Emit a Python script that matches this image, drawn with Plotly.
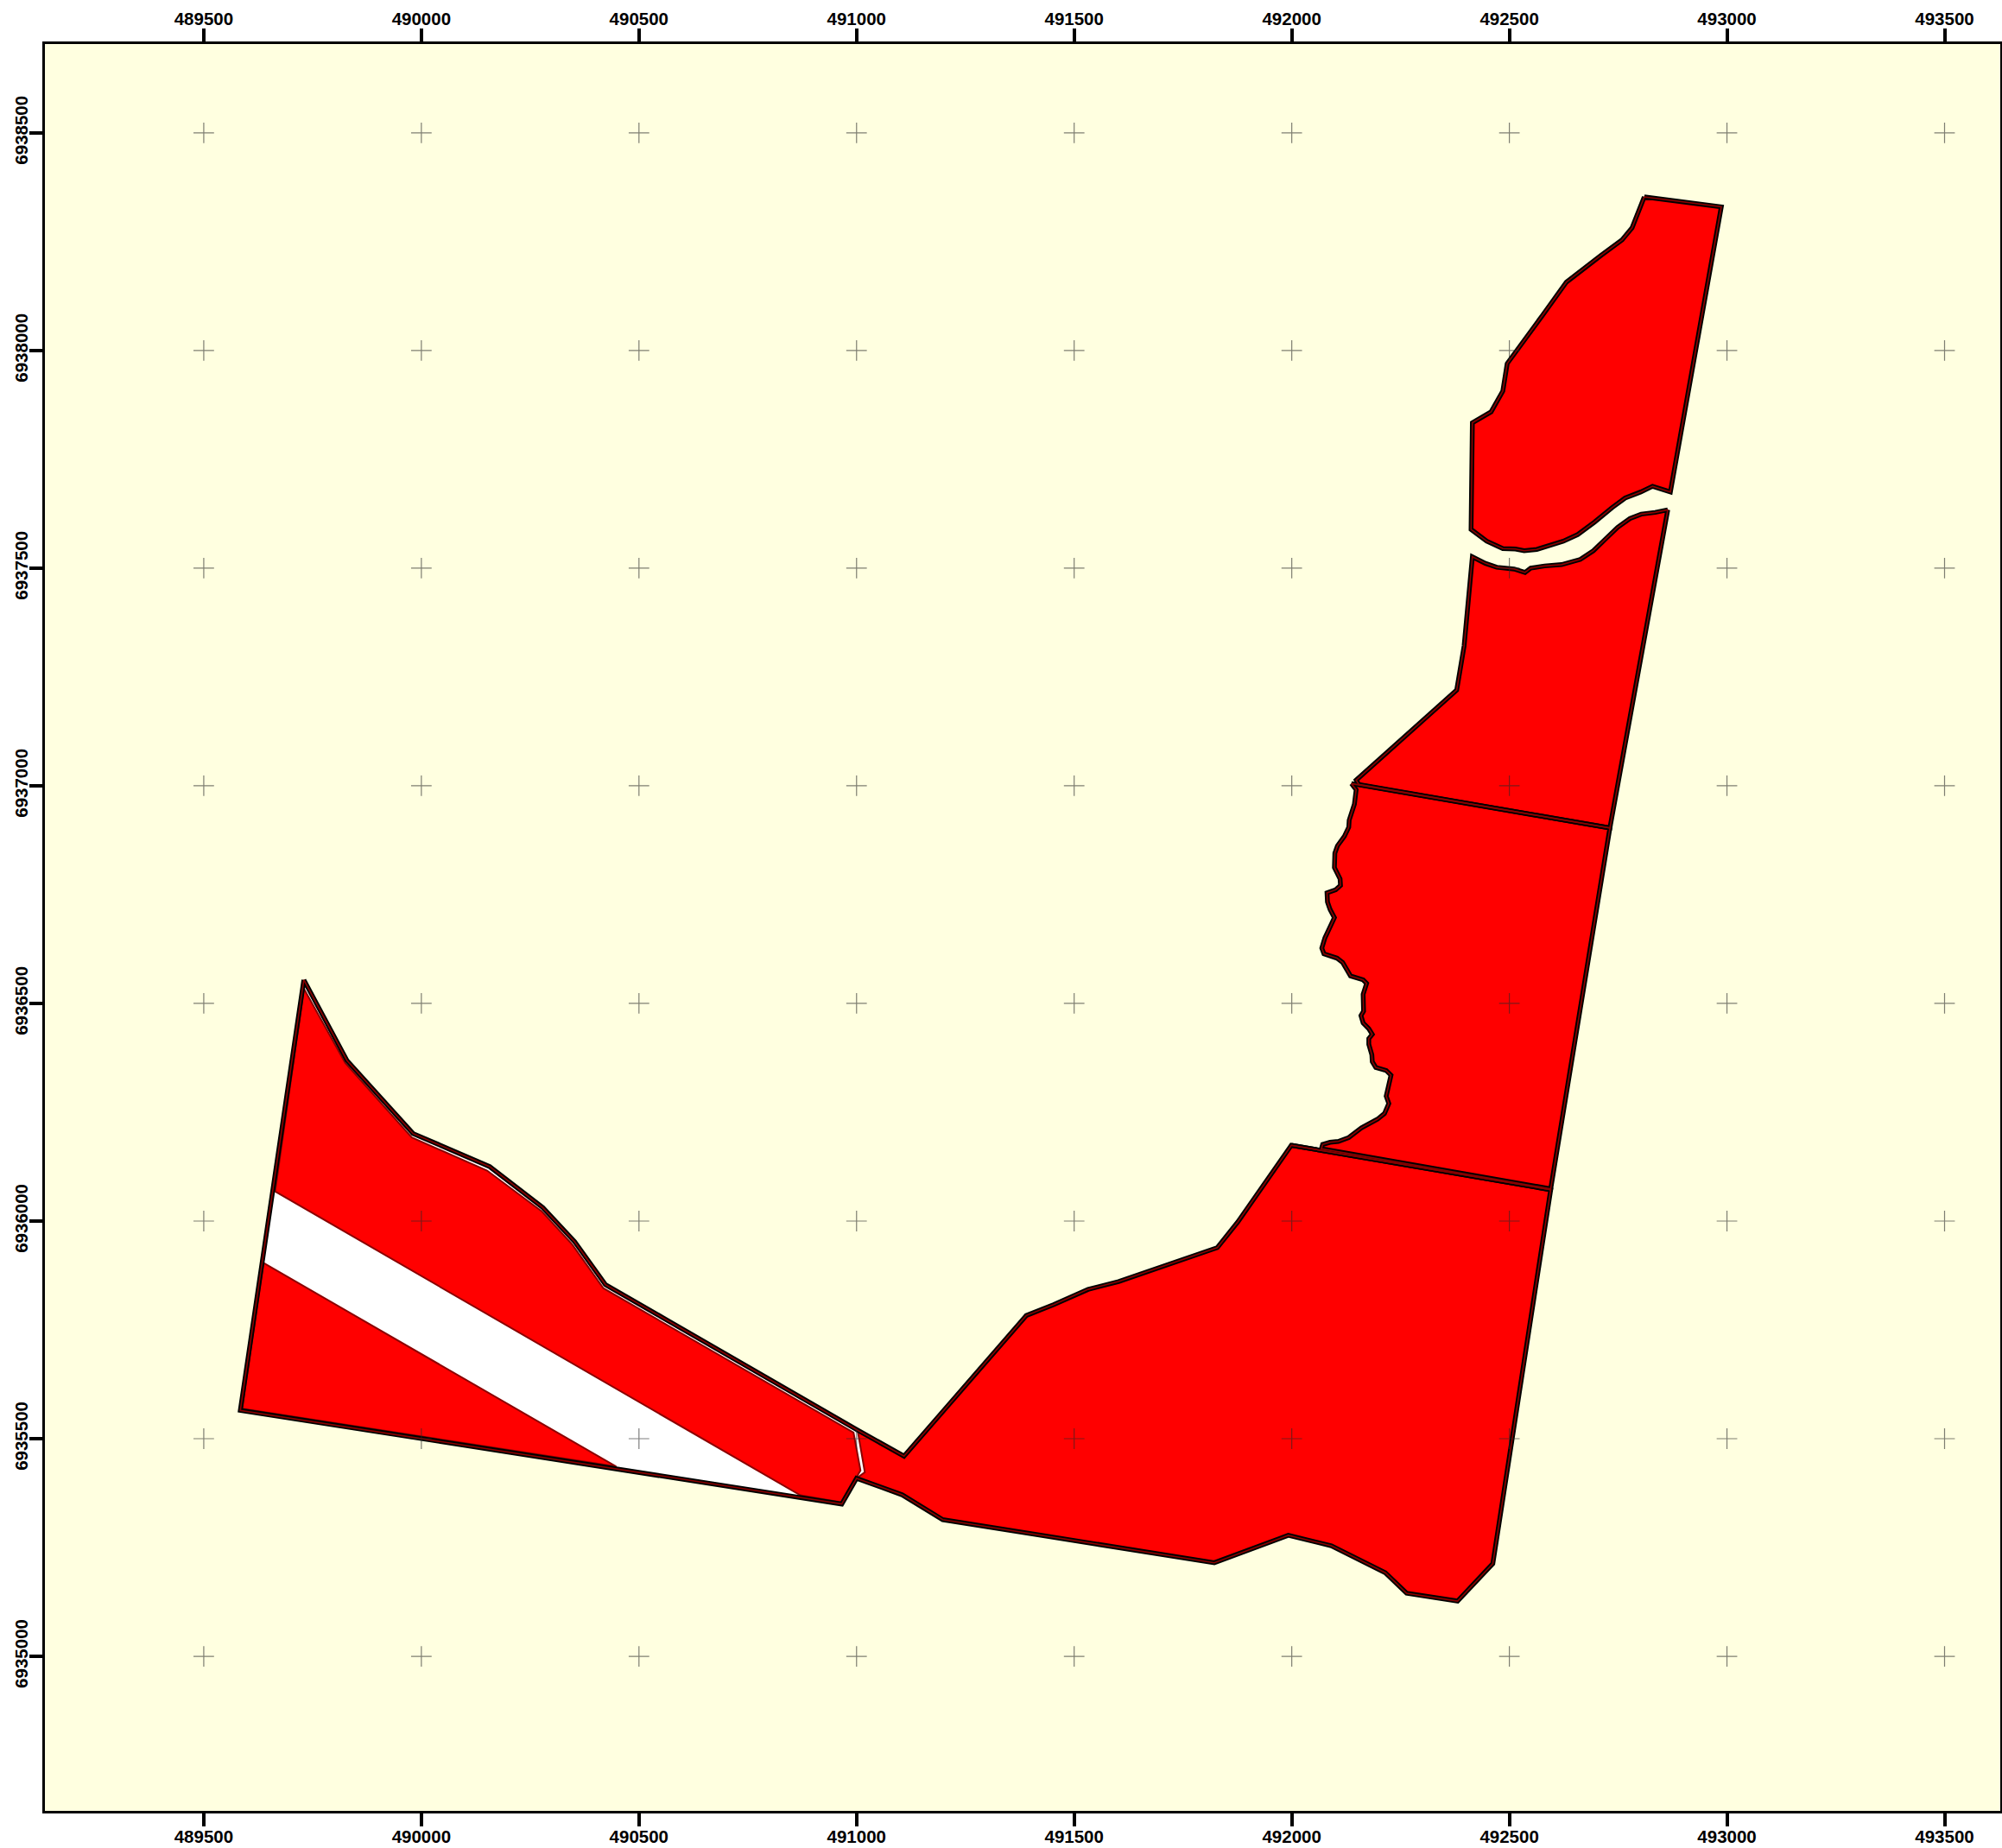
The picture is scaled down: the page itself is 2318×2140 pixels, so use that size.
import plotly.graph_objects as go

x_ticks = [489500, 490000, 490500, 491000, 491500, 492000, 492500, 493000, 493500]
y_ticks = [6935000, 6935500, 6936000, 6936500, 6937000, 6937500, 6938000, 6938500]
x_labels = [str(v) for v in x_ticks]
y_labels = [str(v) for v in y_ticks]

north_x = [492810, 492987, 492870, 492829, 492802, 492766, 492736, 492696, 492657, 492624, 492563, 492534, 492514, 492485, 492448, 492412, 492415, 492458, 492485, 492495, 492577, 492631, 492710, 492759, 492782, 492810]
north_y = [6938353, 6938330, 6937675, 6937688, 6937675, 6937661, 6937639, 6937606, 6937577, 6937562, 6937543, 6937540, 6937544, 6937545, 6937562, 6937589, 6937834, 6937859, 6937907, 6937970, 6938082, 6938157, 6938218, 6938254, 6938282, 6938353]

upper_x = [492864, 492835, 492803, 492777, 492749, 492723, 492693, 492663, 492620, 492581, 492549, 492536, 492511, 492471, 492445, 492415, 492396, 492379, 492148, 492154, 492731, 492864]
upper_y = [6937634, 6937628, 6937624, 6937614, 6937594, 6937569, 6937540, 6937520, 6937508, 6937505, 6937500, 6937490, 6937498, 6937502, 6937511, 6937526, 6937321, 6937220, 6937013, 6937003, 6936903, 6937634]

middle_x = [492137, 492731, 492595, 492068, 492071, 492088, 492107, 492131, 492160, 492197, 492213, 492223, 492217, 492228, 492217, 492193, 492185, 492184, 492177, 492177, 492185, 492177, 492164, 492159, 492165, 492164, 492172, 492164, 492135, 492117, 492104, 492074, 492069, 492076, 492098, 492088, 492082, 492081, 492101, 492112, 492111, 492098, 492099, 492105, 492121, 492131, 492132, 492144, 492148, 492137]
middle_y = [6937005, 6936903, 6936074, 6936166, 6936176, 6936181, 6936183, 6936192, 6936214, 6936234, 6936247, 6936270, 6936287, 6936335, 6936346, 6936353, 6936366, 6936382, 6936406, 6936419, 6936429, 6936442, 6936455, 6936472, 6936482, 6936521, 6936546, 6936554, 6936563, 6936594, 6936604, 6936614, 6936627, 6936650, 6936697, 6936716, 6936733, 6936754, 6936761, 6936771, 6936786, 6936812, 6936845, 6936862, 6936884, 6936905, 6936921, 6936958, 6936991, 6937005]

south_top_x = [491109, 491390, 491453, 491532, 491602, 491829, 491876, 491999]
south_top_y = [6935460, 6935783, 6935808, 6935843, 6935861, 6935939, 6935998, 6936174]
south_rim_x = [492595, 492462, 492381, 492264, 492215, 492091, 491992, 491822, 491198, 491105]
south_rim_y = [6936072, 6935213, 6935127, 6935145, 6935192, 6935254, 6935278, 6935215, 6935314, 6935371]
south_gap_x = [491000, 491019, 491003]
south_gap_y = [6935409, 6935423, 6935516]

west_top_x = [489730, 489829, 489981, 490157, 490279, 490352, 490423, 491000]
west_top_y = [6936554, 6936369, 6936201, 6936125, 6936031, 6935953, 6935854, 6935521]
west_low_x = [491000, 490966, 489584]
west_low_y = [6935409, 6935350, 6935565]

strip_x = [489730, 489825, 489978, 490151, 490276, 490346, 490418, 490993, 491009, 490966, 490871, 489664, 489730]
strip_y = [6936534, 6936363, 6936192, 6936116, 6936023, 6935947, 6935846, 6935514, 6935427, 6935354, 6935370, 6936068, 6936534]

wedge_x = [489637, 490448, 489588, 489637]
wedge_y = [6935904, 6935436, 6935569, 6935904]

RED, DARK, BLACK = "#FF0000", "#8B0000", "#000000"
FILL_BG = "#FFFFE0"

fig = go.Figure()


def area(x, y, fill, line=None, width=0):
    fig.add_trace(go.Scatter(
        x=x, y=y, mode="lines", fill="toself", fillcolor=fill,
        line=dict(color=line or fill, width=width, simplify=False),
        hoverinfo="skip", showlegend=False))


def outline(x, y, color, width):
    fig.add_trace(go.Scatter(
        x=x, y=y, mode="lines",
        line=dict(color=color, width=width, simplify=False),
        hoverinfo="skip", showlegend=False))


rim_x = west_top_x + south_top_x + south_rim_x + west_low_x + west_top_x[:1]
rim_y = west_top_y + south_top_y + south_rim_y + west_low_y + west_top_y[:1]
south_x = south_top_x + south_rim_x + south_gap_x + south_top_x[:1]
south_y = south_top_y + south_rim_y + south_gap_y + south_top_y[:1]

area(rim_x, rim_y, "#FFFFFF")
for px, py in [(north_x, north_y), (upper_x, upper_y), (middle_x, middle_y),
               (south_x, south_y), (strip_x, strip_y), (wedge_x, wedge_y)]:
    area(px, py, RED, DARK, 2)
for px, py in [(north_x, north_y), (upper_x, upper_y), (middle_x, middle_y), (rim_x, rim_y),
               (south_top_x[-1:] + south_rim_x[:1], south_top_y[-1:] + south_rim_y[:1])]:
    outline(px, py, BLACK, 5.5)
for px, py in [(north_x, north_y), (upper_x, upper_y), (middle_x, middle_y), (rim_x, rim_y),
               (south_top_x[-1:] + south_rim_x[:1], south_top_y[-1:] + south_rim_y[:1])]:
    outline(px, py, DARK, 1.6)

cross_x = [x for x in x_ticks for _ in y_ticks]
cross_y = [y for _ in x_ticks for y in y_ticks]
fig.add_trace(go.Scatter(
    x=cross_x, y=cross_y, xaxis="x2", mode="markers",
    marker=dict(symbol="cross-thin", size=17, line=dict(color="rgba(40,40,40,0.6)", width=1.2)),
    hoverinfo="skip", showlegend=False))

tickfont = dict(family="Liberation Sans, Arial, sans-serif", size=20.5, color="black", weight=700)
x_range = [489135, 493628]
y_range = [6934645, 6938704]
axis_common = dict(showgrid=False, zeroline=False, showline=True, linecolor="black", linewidth=3,
                   ticks="outside", ticklen=15, tickwidth=4, tickcolor="black",
                   tickfont=tickfont, automargin=False, tickmode="array")

fig.update_layout(
    width=2318, height=2140,
    margin=dict(l=52, r=2, t=51, b=43, pad=0),
    paper_bgcolor="white", plot_bgcolor=FILL_BG,
    showlegend=False, hovermode=False,
    xaxis=dict(range=x_range, tickvals=x_ticks, ticktext=x_labels, side="bottom", anchor="y",
               ticklabelstandoff=-6, **axis_common),
    xaxis2=dict(range=x_range, tickvals=x_ticks, ticktext=x_labels, side="top", anchor="y",
                overlaying="x", ticklabelstandoff=-4, **axis_common),
    yaxis=dict(range=y_range, tickvals=y_ticks, ticktext=y_labels, side="left", tickangle=-90,
               mirror="ticks", ticklabelstandoff=-6, **axis_common),
)

fig.write_html("out.html", config={"displayModeBar": False},
               post_script="document.body.style.margin='0';document.body.style.overflow='hidden';")
